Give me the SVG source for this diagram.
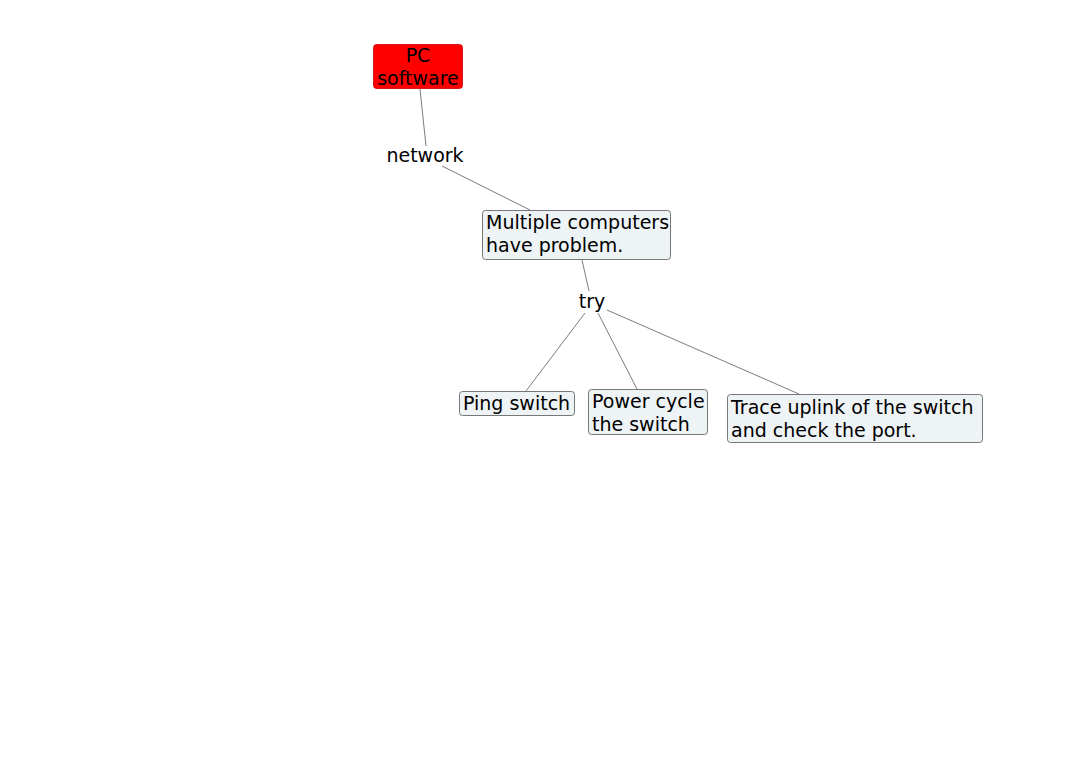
<svg xmlns="http://www.w3.org/2000/svg" width="1080" height="780" viewBox="0 0 1080 780">
<style>
text{font-family:"DejaVu Sans",Verdana,sans-serif;font-size:19px;fill:#000}
.box{fill:#eef3f5;stroke:#555;stroke-width:0.8}
.root{fill:#ff0000;stroke:#cc0000;stroke-width:0.8}
.c{stroke:#444;stroke-width:0.7;fill:none}
</style>
<rect width="1080" height="780" fill="#fff"/>
<g id="connectors">
<line class="c" x1="420" y1="89" x2="426" y2="146"/>
<line class="c" x1="442" y1="166" x2="530" y2="210"/>
<line class="c" x1="582" y1="260" x2="589" y2="291"/>
<line class="c" x1="585" y1="313" x2="526" y2="391"/>
<line class="c" x1="598" y1="313" x2="637" y2="389"/>
<line class="c" x1="607" y1="310" x2="799" y2="394"/>
</g>
<g id="pc-software">
<rect class="root" x="373.5" y="44.5" width="89" height="44" rx="3"/>
<text x="418" y="62" text-anchor="middle">PC</text>
<text x="418" y="85" text-anchor="middle">software</text>
</g>
<g id="network">
<text x="425" y="162" text-anchor="middle">network</text>
</g>
<g id="multiple-computers">
<rect class="box" x="482.5" y="210.5" width="188" height="49" rx="3"/>
<text x="486" y="229">Multiple computers</text>
<text x="486" y="252">have problem.</text>
</g>
<g id="try">
<text x="592" y="308" text-anchor="middle">try</text>
</g>
<g id="ping-switch">
<rect class="box" x="459.5" y="391.5" width="115" height="24" rx="3"/>
<text x="463" y="410">Ping switch</text>
</g>
<g id="power-cycle">
<rect class="box" x="588.5" y="389.5" width="119" height="45" rx="3"/>
<text x="592" y="408">Power cycle</text>
<text x="592" y="431">the switch</text>
</g>
<g id="trace-uplink">
<rect class="box" x="727.5" y="394.5" width="255" height="48" rx="3"/>
<text x="731" y="414">Trace uplink of the switch</text>
<text x="731" y="437">and check the port.</text>
</g>
</svg>
